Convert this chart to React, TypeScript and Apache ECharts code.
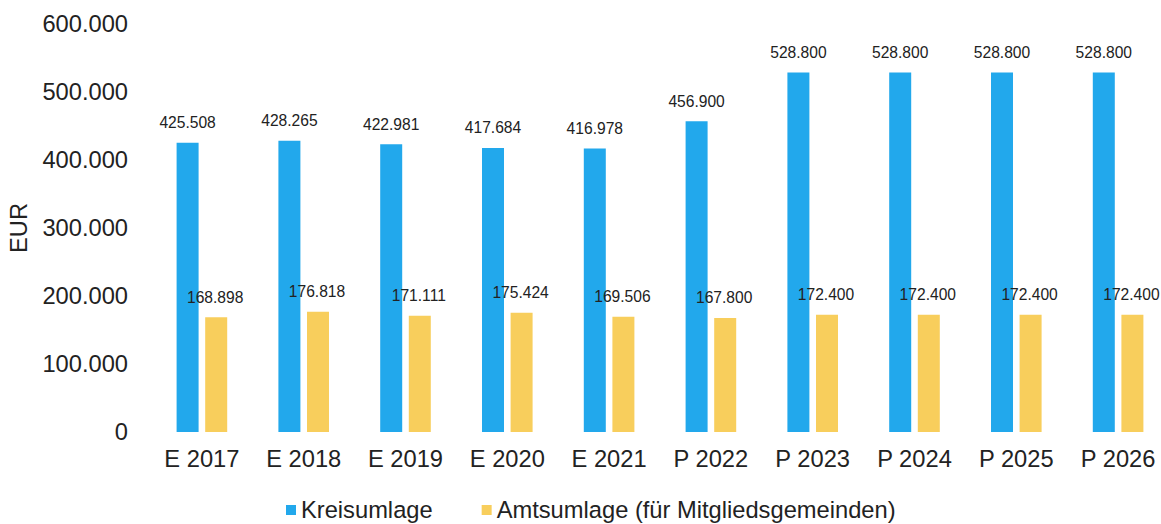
import React, { useEffect, useRef } from "react";
import * as echarts from "echarts";

const categories = ["E 2017", "E 2018", "E 2019", "E 2020", "E 2021", "P 2022", "P 2023", "P 2024", "P 2025", "P 2026"];
const kreisumlage = [425508, 428265, 422981, 417684, 416978, 456900, 528800, 528800, 528800, 528800];
const amtsumlage = [168898, 176818, 171111, 175424, 169506, 167800, 172400, 172400, 172400, 172400];
const seriesNames = ["Kreisumlage", "Amtsumlage (für Mitgliedsgemeinden)"];

const fmt = (v: number) => (v === 0 ? "0" : String(Math.round(v)).replace(/\B(?=(\d{3})+(?!\d))/g, "."));

export default function App() {
  const ref = useRef<HTMLDivElement>(null);
  useEffect(() => {
    document.body.style.margin = "0";
    const chart = echarts.init(ref.current!, undefined, { renderer: "svg" });
    const font = "Liberation Sans, Arial, sans-serif";
    const dark = "#222";
    chart.setOption({
      animation: false,
      textStyle: { fontFamily: font },
      grid: { left: 151, right: -8, top: 24, bottom: 92, containLabel: false, outerBoundsMode: "none" },
      legend: {
        data: seriesNames,
        left: 286,
        top: 497,
        padding: 0,
        itemWidth: 10,
        itemHeight: 10,
        itemGap: 49,
        icon: "rect",
        textStyle: { fontSize: 23.7, lineHeight: 26, color: dark, fontFamily: font },
      },
      xAxis: {
        type: "category",
        data: categories,
        axisLine: { show: false },
        axisTick: { show: false },
        axisLabel: { fontSize: 23.7, color: dark, margin: 15, fontFamily: font },
      },
      yAxis: {
        type: "value",
        min: 0,
        max: 600000,
        interval: 100000,
        name: "EUR",
        nameLocation: "middle",
        nameGap: 118,
        nameTextStyle: { fontSize: 23.7, color: dark, fontFamily: font },
        splitLine: { show: false },
        axisLine: { show: false },
        axisTick: { show: false },
        axisLabel: { fontSize: 23.7, color: dark, margin: 23, formatter: (v: number) => fmt(v), fontFamily: font },
      },
      series: [
        {
          name: seriesNames[0],
          type: "bar",
          data: kreisumlage,
          barWidth: 22,
          barGap: "30%",
          itemStyle: { color: "#22A8EC" },
          label: { show: true, position: "top", distance: 12, fontSize: 15.6, color: dark, formatter: (p: any) => fmt(p.value), fontFamily: font },
        },
        {
          name: seriesNames[1],
          type: "bar",
          data: amtsumlage,
          barWidth: 22,
          itemStyle: { color: "#F8CE5C" },
          label: { show: true, position: "top", distance: 12, offset: [-1, 0], fontSize: 15.6, color: dark, formatter: (p: any) => fmt(p.value), fontFamily: font },
        },
      ],
    });
    return () => chart.dispose();
  }, []);
  return <div ref={ref} style={{ width: 1161, height: 524 }} />;
}
